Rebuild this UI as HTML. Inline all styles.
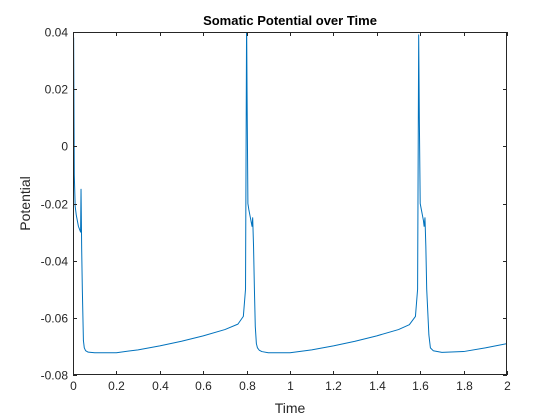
<!DOCTYPE html>
<html><head><meta charset="utf-8"><style>
body{margin:0;background:#fff;}
svg{display:block;font-family:"Liberation Sans",sans-serif;}
</style></head><body>
<svg id="c" width="560" height="420"></svg>
<script>
const xTicks=[0,0.2,0.4,0.6,0.8,1,1.2,1.4,1.6,1.8,2];
const yTicks=[-0.08,-0.06,-0.04,-0.02,0,0.02,0.04];
const xTickLabels=["0","0.2","0.4","0.6","0.8","1","1.2","1.4","1.6","1.8","2"];
const yTickLabels=["-0.08","-0.06","-0.04","-0.02","0","0.02","0.04"];
const times=[0,0.003,0.006,0.01,0.015,0.02,0.025,0.03,0.035,0.037,0.04,0.043,0.048,0.052,0.058,0.07,0.1,0.2,0.3,0.4,0.5,0.6,0.7,0.76,0.785,0.795,0.8,0.802,0.806,0.81,0.815,0.82,0.825,0.828,0.832,0.836,0.84,0.845,0.85,0.858,0.87,0.9,1.0,1.1,1.2,1.3,1.4,1.5,1.55,1.578,1.588,1.593,1.596,1.6,1.605,1.61,1.615,1.618,1.622,1.626,1.63,1.64,1.647,1.66,1.7,1.8,1.9,2.0];
const potential=[-0.06,0.038,-0.01,-0.021,-0.024,-0.026,-0.028,-0.029,-0.03,-0.015,-0.036,-0.05,-0.068,-0.0705,-0.0715,-0.072,-0.0722,-0.0722,-0.0712,-0.0698,-0.0682,-0.0663,-0.0641,-0.0622,-0.0595,-0.05,0.045,0.02,-0.02,-0.022,-0.024,-0.026,-0.028,-0.025,-0.035,-0.05,-0.063,-0.069,-0.0705,-0.0713,-0.0718,-0.0722,-0.0722,-0.0712,-0.0698,-0.0682,-0.0663,-0.0641,-0.0624,-0.0595,-0.05,0.039,0.01,-0.02,-0.022,-0.024,-0.026,-0.028,-0.025,-0.035,-0.05,-0.066,-0.0705,-0.0715,-0.0721,-0.0718,-0.0705,-0.069];
const NS="http://www.w3.org/2000/svg";
const svg=document.getElementById('c');
const L=73,R=507,T=32,B=375;
const xs=t=>L+(t-0)/(2-0)*(R-L);
const ys=v=>B-(v+0.08)/(0.12)*(B-T);
function mk(tag,attrs){const e=document.createElementNS(NS,tag);for(const k in attrs)e.setAttribute(k,attrs[k]);svg.appendChild(e);return e;}
const box=mk('rect',{x:L,y:T,width:R-L,height:B-T,fill:'#fff',stroke:'none'});


const clip=document.createElementNS(NS,'clipPath');clip.setAttribute('id','cp');
const cr=document.createElementNS(NS,'rect');cr.setAttribute('x',L);cr.setAttribute('y',T);cr.setAttribute('width',R-L);cr.setAttribute('height',B-T);clip.appendChild(cr);svg.appendChild(clip);
let d='';times.forEach((t,i)=>{d+=(i?'L':'M')+xs(t).toFixed(2)+','+ys(potential[i]).toFixed(2);});
const line=mk('path',{d:d,fill:'none',stroke:'#0072bd','stroke-width':1,'clip-path':'url(#cp)','stroke-linejoin':'round'});


const frame=mk('rect',{x:L+0.5,y:T+0.5,width:R-L-1,height:B-T-1,fill:'none',stroke:'#262626','stroke-width':1});


xTicks.forEach((t,i)=>{const x=Math.round(xs(t))+0.5;
 mk('line',{x1:x,y1:B,x2:x,y2:B-4,stroke:'#262626'});
 mk('line',{x1:x,y1:T,x2:x,y2:T+4,stroke:'#262626'});
 const tx=mk('text',{x:x,y:B+15,'text-anchor':'middle','font-size':12,fill:'#262626'});tx.textContent=xTickLabels[i];
 
 });
yTicks.forEach((v,i)=>{const y=Math.round(ys(v))+0.5;
 mk('line',{x1:L,y1:y,x2:L+4,y2:y,stroke:'#262626'});
 mk('line',{x1:R,y1:y,x2:R-4,y2:y,stroke:'#262626'});
 const tx=mk('text',{x:L-5,y:y+4,'text-anchor':'end','font-size':12,fill:'#262626'});tx.textContent=yTickLabels[i];
 
 });
const title=mk('text',{x:(L+R)/2,y:25,'text-anchor':'middle','font-size':13,'font-weight':'bold',fill:'#000'});title.textContent='Somatic Potential over Time';


const xl=mk('text',{x:(L+R)/2,y:413,'text-anchor':'middle','font-size':14,fill:'#262626'});xl.textContent='Time';


const yl=mk('text',{x:0,y:0,'text-anchor':'middle','font-size':14,fill:'#262626',transform:'translate(30,'+((T+B)/2)+') rotate(-90)'});yl.textContent='Potential';


</script>
</body></html>
